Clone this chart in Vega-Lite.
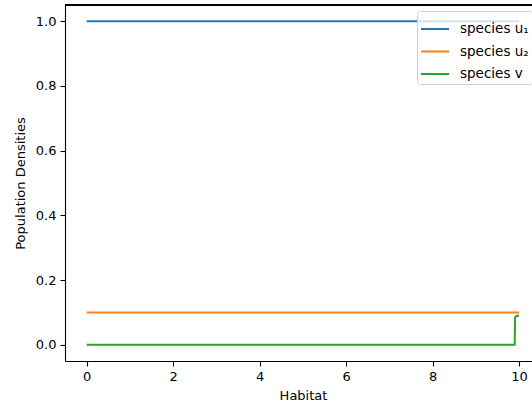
{
  "$schema": "https://vega.github.io/schema/vega-lite/v6.json",
  "width": 467,
  "height": 356,
  "autosize": {"type": "none"},
  "padding": {"left": 65, "top": 5, "right": 0, "bottom": 43},
  "background": "white",
  "config": {
    "view": {"stroke": null},
    "font": "DejaVu Sans",
    "axis": {
      "domainColor": "#000", "domainWidth": 1.1, "tickColor": "#000", "tickWidth": 1.1, "tickSize": 5,
      "labelColor": "#000", "labelFontSize": 13, "labelPadding": 4, "titleColor": "#000", "titleFontSize": 13, "titleFontWeight": "normal", "grid": false
    }
  },
  "data": {"values": [
    {"series": "species u₁", "x": 0, "y": 1.0, "o": 0},
    {"series": "species u₁", "x": 10, "y": 1.0, "o": 1},
    {"series": "species u₂", "x": 0, "y": 0.1, "o": 0},
    {"series": "species u₂", "x": 10, "y": 0.1, "o": 1},
    {"series": "species v", "x": 0, "y": 0.0, "o": 0},
    {"series": "species v", "x": 9.9, "y": 0.0, "o": 1},
    {"series": "species v", "x": 9.91, "y": 0.085, "o": 2},
    {"series": "species v", "x": 9.95, "y": 0.09, "o": 3},
    {"series": "species v", "x": 10, "y": 0.09, "o": 4}
  ]},
  "layer": [
    {
      "mark": {"type": "line", "strokeWidth": 2, "clip": true},
      "encoding": {
        "x": {"field": "x", "type": "quantitative", "scale": {"domain": [-0.5, 10.3], "nice": false, "zero": false},
              "axis": {"values": [0, 2, 4, 6, 8, 10], "format": "d", "title": "Habitat", "titleX": 238, "titlePadding": 6}},
        "y": {"field": "y", "type": "quantitative", "scale": {"domain": [-0.05, 1.05], "nice": false, "zero": false},
              "axis": {"values": [0, 0.2, 0.4, 0.6, 0.8, 1.0], "format": ".1f", "title": "Population Densities", "titlePadding": 8}},
        "color": {"field": "series", "type": "nominal",
                  "scale": {"domain": ["species u₁", "species u₂", "species v"], "range": ["#1f77b4", "#ff7f0e", "#2ca02c"]},
                  "legend": {"title": null, "orient": "none", "legendX": 352, "legendY": 6, "symbolType": "M-1,0H1", "symbolSize": 784, "symbolStrokeWidth": 2,
                             "labelFontSize": 13.5, "labelColor": "#000", "labelOffset": 10, "rowPadding": 0.5, "padding": 3,
                             "fillColor": "rgba(255,255,255,0.8)", "strokeColor": "#d0d0d0", "cornerRadius": 3, "labelLimit": 300}},
        "order": {"field": "o", "type": "quantitative"}
      }
    },
    {
      "mark": {"type": "rule", "color": "#000", "strokeWidth": 1.1},
      "encoding": {"y": {"datum": 1.05, "type": "quantitative"}}
    }
  ]
}
